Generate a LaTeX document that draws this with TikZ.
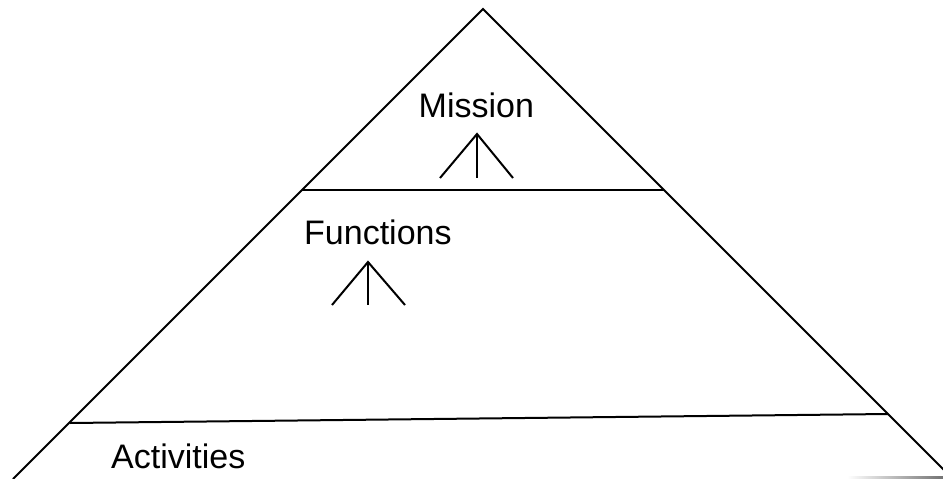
\documentclass[tikz,border=0pt]{standalone}
\usepackage{fontspec}
\setmainfont{Liberation Sans}
\begin{document}
\begin{tikzpicture}[x=1pt,y=-1pt,
  edge/.style={line width=2pt,black},
  levellabel/.style={font=\fontsize{34}{40}\selectfont,inner sep=0pt,anchor=base west},
  fork/.style={line width=2pt,black}]
\useasboundingbox (0,0) rectangle (943,479);
\clip (0,0) rectangle (943,479);
% pyramid outline
\coordinate (apex) at (483,9);
\coordinate (bl) at (13,479);
\coordinate (br) at (953,479);
\draw[edge] (bl) -- (apex) -- (br);
% level separators
\coordinate (s1l) at (302,190);
\coordinate (s1r) at (664,190);
\coordinate (s2l) at (70,423);
\coordinate (s2r) at (888,414);
\draw[edge] (s1l) -- (s1r);
\draw[edge] (s2l) -- (s2r);
% faint base edge
\shade[left color=white,right color=black!55] (847,476.8) rectangle (943,478.6);
% labels
\node[levellabel] (mission) at (418.5,117) {Mission};
\node[levellabel] (functions) at (304,244) {Functions};
\node[levellabel] (activities) at (111,468) {Activities};
% fork symbols
\coordinate (m0) at (477,134);
\draw[fork] (440,178) -- (m0) -- (513,178);
\draw[fork] (m0) -- (477,178);
\coordinate (f0) at (368,262);
\draw[fork] (332,305) -- (f0) -- (405,305);
\draw[fork] (f0) -- (368,305);
\end{tikzpicture}
\end{document}
